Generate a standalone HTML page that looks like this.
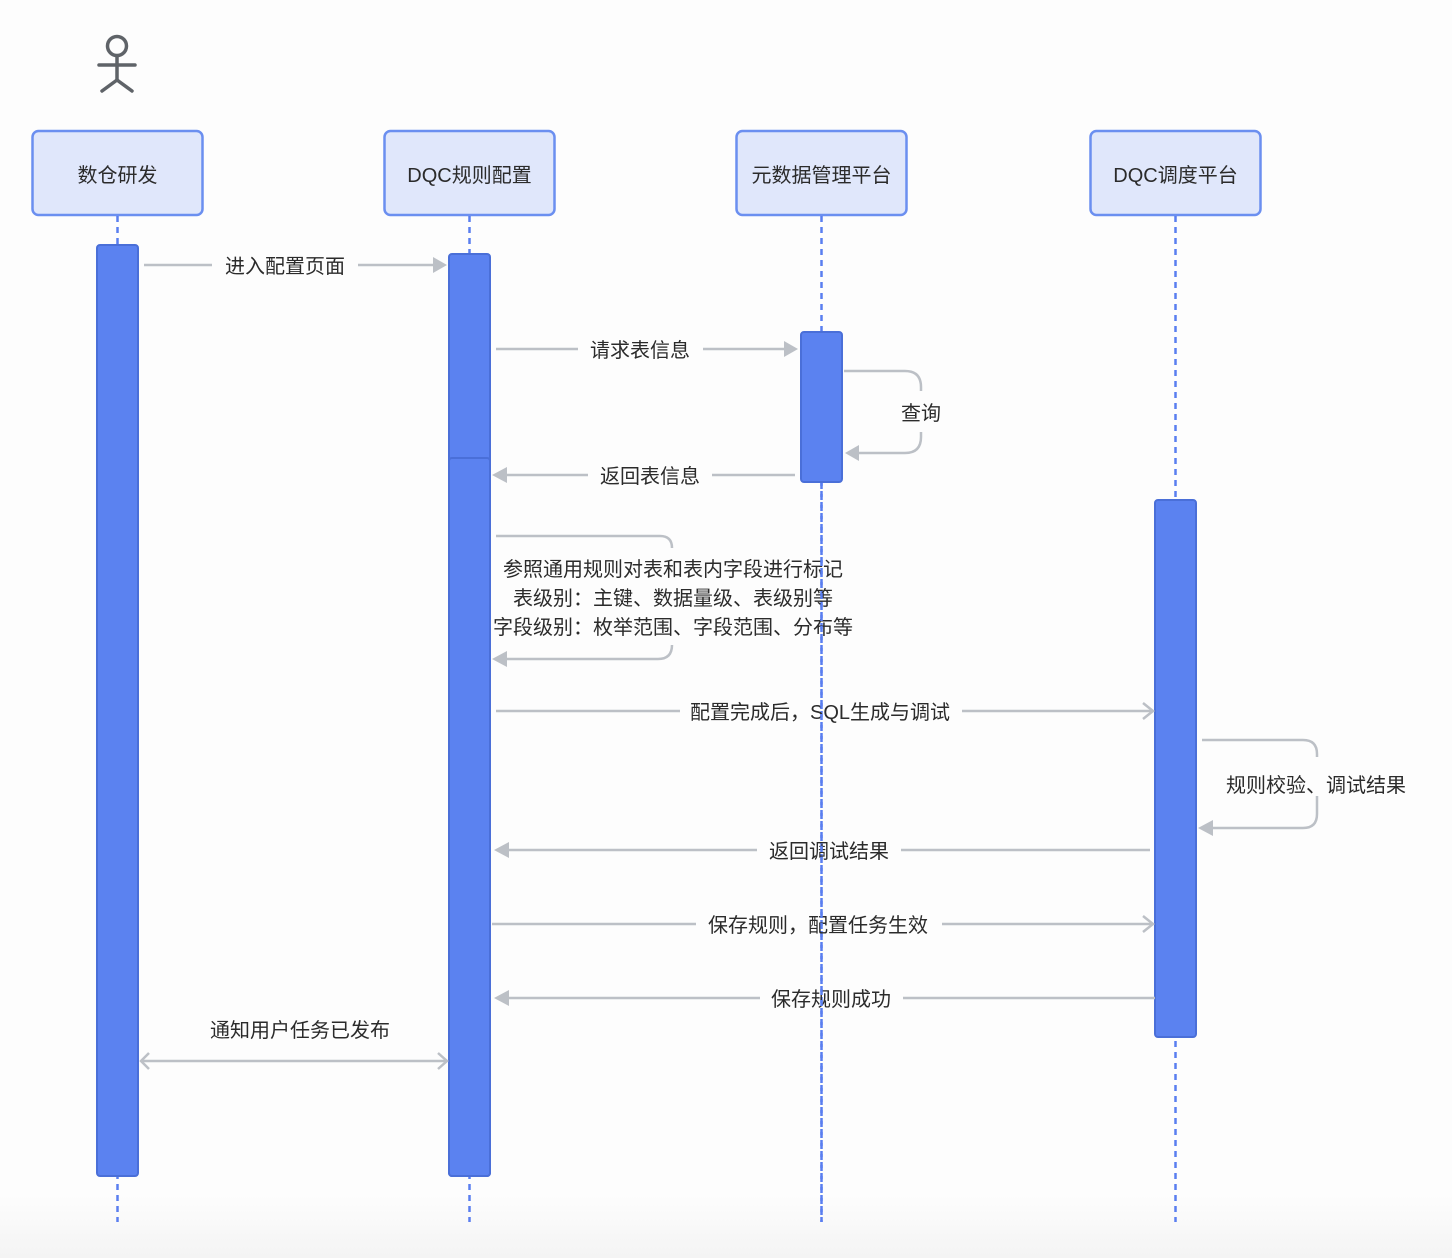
<!DOCTYPE html>
<html><head><meta charset="utf-8"><style>
html,body{margin:0;padding:0;background:#fdfdfd;}
svg{display:block;}
text{font-family:"Liberation Sans","Noto Sans CJK SC",sans-serif;fill:#2b2b2b;}
</style></head><body>
<svg width="1452" height="1258" viewBox="0 0 1452 1258" xmlns="http://www.w3.org/2000/svg">
<defs>
<linearGradient id="bg" x1="0" y1="0" x2="0" y2="1"><stop offset="0.95" stop-color="#fdfdfd"/><stop offset="1" stop-color="#f4f4f4"/></linearGradient>
</defs>
<rect width="1452" height="1258" fill="url(#bg)"/>
<g stroke="#5f6368" stroke-width="3.5" fill="none" stroke-linecap="round">
<circle cx="117" cy="46" r="9.5"/>
<line x1="117" y1="56" x2="117" y2="80"/>
<line x1="99" y1="65" x2="135" y2="65"/>
<line x1="102" y1="91" x2="117" y2="80"/>
<line x1="132" y1="91" x2="117" y2="80"/>
</g>
<g fill="#e0e7fb" stroke="#6b8ff0" stroke-width="2.5">
<rect x="32.5" y="131" width="170" height="84" rx="6"/>
<rect x="384.5" y="131" width="170" height="84" rx="6"/>
<rect x="736.5" y="131" width="170" height="84" rx="6"/>
<rect x="1090.5" y="131" width="170" height="84" rx="6"/>
</g>
<g font-size="20" text-anchor="middle">
<text x="117.5" y="182">数仓研发</text>
<text x="469.5" y="182">DQC规则配置</text>
<text x="821.5" y="182">元数据管理平台</text>
<text x="1175.5" y="182">DQC调度平台</text>
</g>
<g stroke="#5a7ef0" stroke-width="2.5" stroke-dasharray="6,5">
<line x1="117.5" y1="216" x2="117.5" y2="1222"/>
<line x1="469.5" y1="216" x2="469.5" y2="1222"/>
<line x1="821.5" y1="216" x2="821.5" y2="1222"/>
<line x1="1175.5" y1="216" x2="1175.5" y2="1222"/>
</g>
<g fill="#5b82f0" stroke="#4a6fd8" stroke-width="2">
<rect x="97" y="245" width="41" height="931" rx="3"/>
<rect x="449" y="254" width="41" height="922" rx="3"/>
<rect x="449" y="458" width="41" height="718" rx="3"/>
<rect x="801" y="332" width="41" height="150" rx="3"/>
<rect x="1155" y="500" width="41" height="537" rx="3"/>
</g>
<g stroke="#bcc0c6" stroke-width="2.5" fill="none">
<line x1="144" y1="265" x2="212" y2="265"/><line x1="358" y1="265" x2="434" y2="265"/>
<line x1="496" y1="349" x2="578" y2="349"/><line x1="703" y1="349" x2="785" y2="349"/>
<path d="M844 371 H905 Q921 371 921 387 V391"/>
<path d="M921 432 V437 Q921 453 905 453 H858"/>
<line x1="505" y1="475" x2="588" y2="475"/><line x1="712" y1="475" x2="795" y2="475"/>
<path d="M496 536 H660 Q672 536 672 548"/>
<path d="M672 645 Q672 659 658 659 H505"/>
<line x1="496" y1="711" x2="680" y2="711"/><line x1="962" y1="711" x2="1153" y2="711"/>
<polyline points="1143,703 1153,711 1143,719"/>
<path d="M1202 740 H1303 Q1317 740 1317 754 V757"/>
<path d="M1317 796 V814 Q1317 828 1303 828 H1211"/>
<line x1="507" y1="850" x2="757" y2="850"/><line x1="901" y1="850" x2="1150" y2="850"/>
<line x1="492" y1="924" x2="696" y2="924"/><line x1="942" y1="924" x2="1153" y2="924"/>
<polyline points="1143,916 1153,924 1143,932"/>
<line x1="507" y1="998" x2="760" y2="998"/><line x1="903" y1="998" x2="1155" y2="998"/>
<line x1="141" y1="1061" x2="447" y2="1061"/>
<polyline points="149,1053 141,1061 149,1069"/>
<polyline points="438,1053 447,1061 438,1069"/>
</g>
<g fill="#bcc0c6">
<polygon points="433,257 447,265 433,273"/>
<polygon points="784,341 798,349 784,357"/>
<polygon points="845,453 859,445 859,461"/>
<polygon points="492,475 507,467 507,483"/>
<polygon points="492,659 507,651 507,667"/>
<polygon points="1198,828 1213,820 1213,836"/>
<polygon points="494,850 509,842 509,858"/>
<polygon points="494,998 509,990 509,1006"/>
</g>
<g font-size="20" text-anchor="middle">
<text x="285" y="273">进入配置页面</text>
<text x="640" y="357">请求表信息</text>
<text x="921" y="420">查询</text>
<text x="650" y="483">返回表信息</text>
<text x="673" y="576">参照通用规则对表和表内字段进行标记</text>
<text x="673" y="605">表级别：主键、数据量级、表级别等</text>
<text x="673" y="634">字段级别：枚举范围、字段范围、分布等</text>
<text x="820" y="719">配置完成后，SQL生成与调试</text>
<text x="1316" y="792">规则校验、调试结果</text>
<text x="829" y="858">返回调试结果</text>
<text x="818" y="932">保存规则，配置任务生效</text>
<text x="831" y="1006">保存规则成功</text>
<text x="300" y="1037">通知用户任务已发布</text>
</g>
<g stroke="#5a7ef0" stroke-width="2.5" stroke-dasharray="6,5">
<line x1="821.5" y1="483" x2="821.5" y2="1222"/>
</g>
</svg>
</body></html>
